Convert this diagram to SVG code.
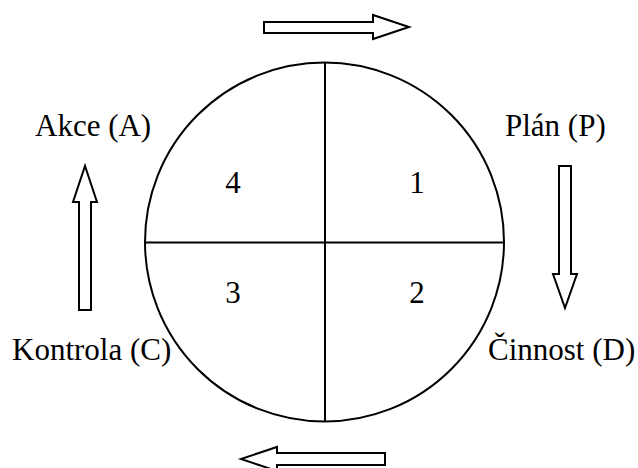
<svg xmlns="http://www.w3.org/2000/svg" width="638" height="468" viewBox="0 0 638 468">
<style>
.ln{fill:none;stroke:#000;stroke-width:2}
.ar{fill:#fff;stroke:#000;stroke-width:2;stroke-linejoin:miter}
.t{font-family:"Liberation Serif","Times New Roman",serif;font-size:31px;fill:#000}
.n{text-anchor:middle}
</style>
<rect width="638" height="468" fill="#fff"/>
<g id="circle">
<circle class="ln" cx="324.5" cy="242" r="179.5"/>
<line class="ln" x1="325" y1="62.5" x2="325" y2="421.5"/>
<line class="ln" x1="145" y1="242.5" x2="504" y2="242.5"/>
<text class="t n" x="233" y="193">4</text>
<text class="t n" x="417" y="193">1</text>
<text class="t n" x="233" y="303">3</text>
<text class="t n" x="417" y="303">2</text>
</g>
<g id="plan"><text class="t" x="505" y="136">Plán (P)</text></g>
<g id="cinnost"><text class="t" x="488" y="360">Činnost (D)</text></g>
<g id="kontrola"><text class="t" x="12" y="360">Kontrola (C)</text></g>
<g id="akce"><text class="t" x="35" y="136">Akce (A)</text></g>
<g id="connectors">
<polygon class="ar" points="264,22 373,22 373,15 409,27 373,39 373,33 264,33"/>
<polygon class="ar" points="559,166 571,166 571,274 577,274 565,308 553,274 559,274"/>
<polygon class="ar" points="385,453 385,465 277,465 277,471 241,459 277,447 277,453"/>
<polygon class="ar" points="79,310 91,310 91,202 97,202 85,166 73,202 79,202"/>
</g>
</svg>
